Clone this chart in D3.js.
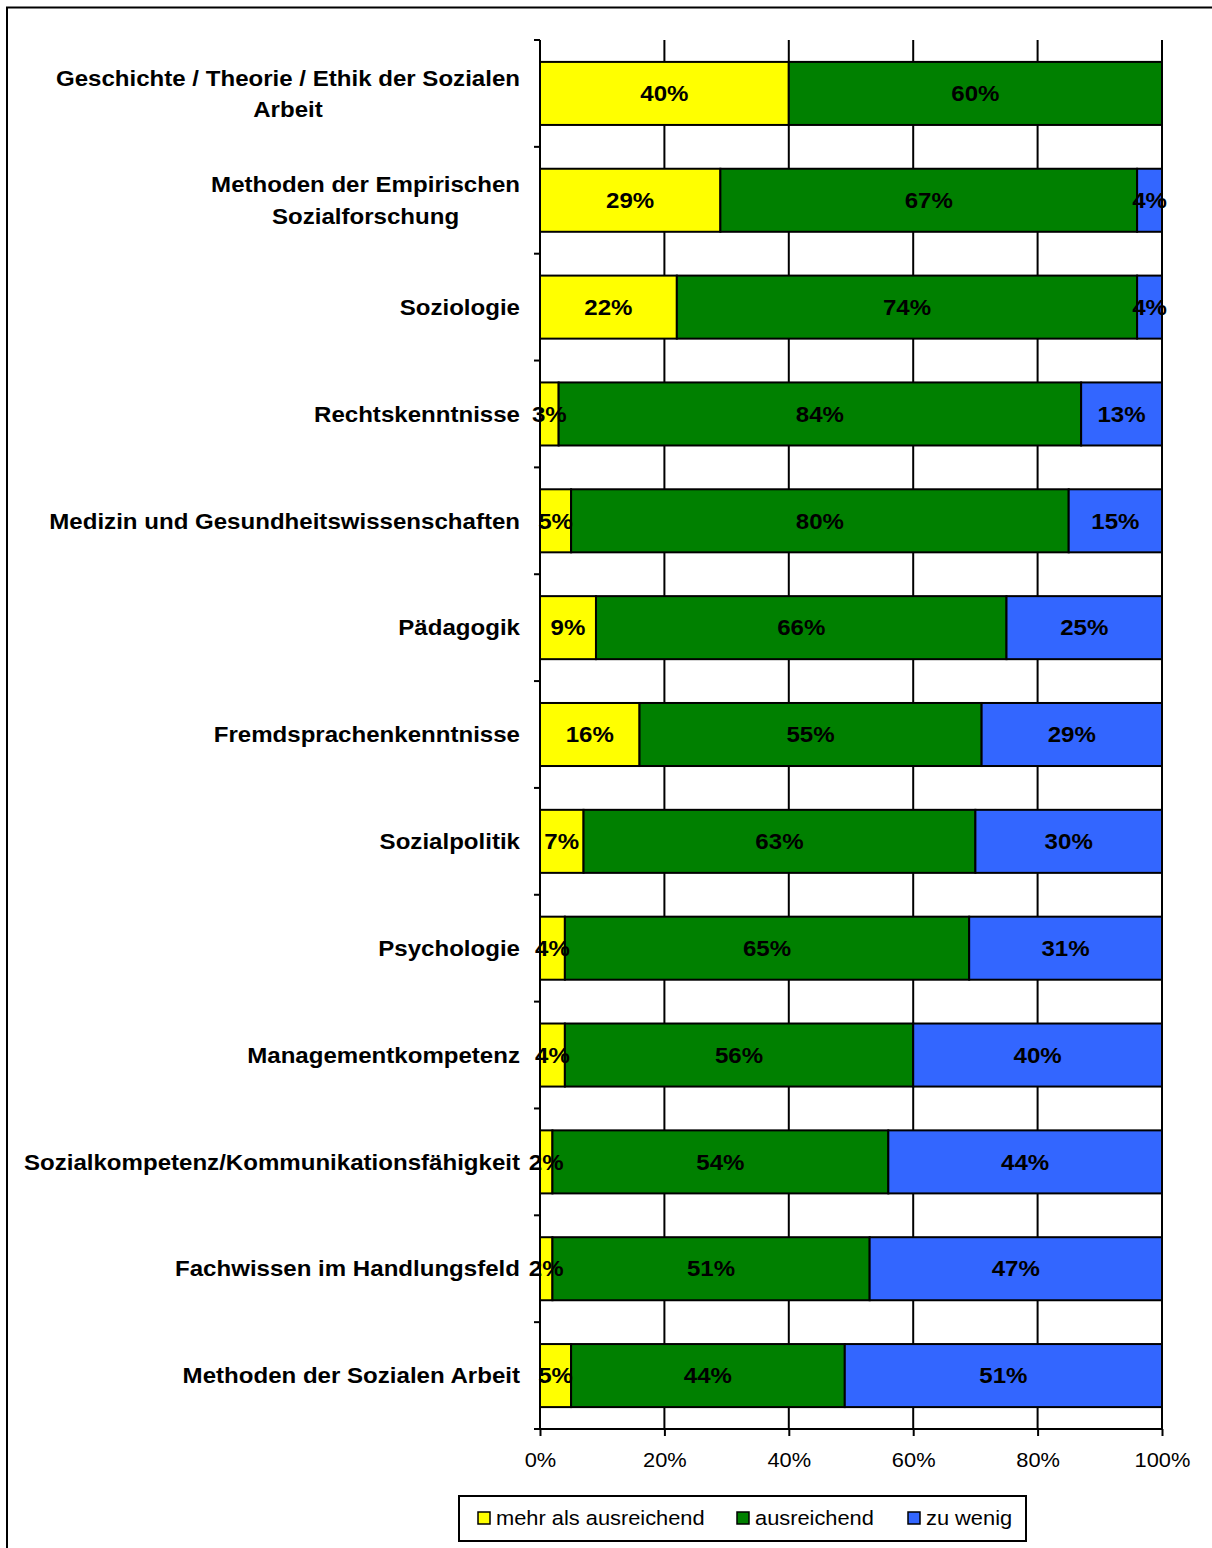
<!DOCTYPE html>
<html>
<head>
<meta charset="utf-8">
<script src="https://cdn.jsdelivr.net/npm/d3@7"></script>
<style>
  html, body { margin: 0; padding: 0; background: #fff; }
  svg { display: block; font-family: Arial, "Liberation Sans", sans-serif; }
</style>
</head>
<body>
<svg id="chart" width="1212" height="1548"></svg>
<script>
// Categories (top to bottom); "|" marks a manual line break
const categories = [
  "Geschichte / Theorie / Ethik der Sozialen|Arbeit",
  "Methoden der Empirischen|Sozialforschung",
  "Soziologie",
  "Rechtskenntnisse",
  "Medizin und Gesundheitswissenschaften",
  "Pädagogik",
  "Fremdsprachenkenntnisse",
  "Sozialpolitik",
  "Psychologie",
  "Managementkompetenz",
  "Sozialkompetenz/Kommunikationsfähigkeit",
  "Fachwissen im Handlungsfeld",
  "Methoden der Sozialen Arbeit"
];

// Shares in percent per series
const mehrAlsAusreichend = [40, 29, 22, 3, 5, 9, 16, 7, 4, 4, 2, 2, 5];
const ausreichend        = [60, 67, 74, 84, 80, 66, 55, 63, 65, 56, 54, 51, 44];
const zuWenig            = [0, 4, 4, 13, 15, 25, 29, 30, 31, 40, 44, 47, 51];

const seriesNames = ["mehr als ausreichend", "ausreichend", "zu wenig"];
const seriesColors = ["#FFFF00", "#008000", "#3366FF"];
const tickValues = [0, 20, 40, 60, 80, 100];

(function draw() {
  const svg = d3.select("#chart");
  const boldSize = 21.5, regSize = 19.5, widen = 1.12;
  // horizontal widening of a text around a fixed x
  const stretch = ax => `translate(${ax},0) scale(${widen},1) translate(${-ax},0)`;

  // outer frame (top and left edges visible)
  svg.append("path")
    .attr("d", "M7,1548 V7.5 H1212")
    .attr("fill", "none").attr("stroke", "#000").attr("stroke-width", 2);

  const plotLeft = 540, plotRight = 1162, plotTop = 40, plotBottom = 1429;

  const x = d3.scaleLinear().domain([0, 100]).range([plotLeft, plotRight]);
  const y = d3.scaleBand().domain(categories).range([plotTop, plotBottom])
    .paddingInner(0.41).paddingOuter(0.205);

  // vertical gridlines
  svg.append("g").selectAll("line")
    .data(tickValues.slice(1))
    .join("line")
    .attr("x1", d => x(d)).attr("x2", d => x(d))
    .attr("y1", plotTop).attr("y2", plotBottom)
    .attr("stroke", "#000").attr("stroke-width", 2);

  // stacked bars
  const rows = categories.map((c, i) => {
    const vals = [mehrAlsAusreichend[i], ausreichend[i], zuWenig[i]];
    let acc = 0;
    return vals.map((v, k) => {
      const seg = { cat: c, k, v, x0: acc, x1: acc + v };
      acc += v;
      return seg;
    });
  });
  const segs = rows.flat().filter(s => s.v > 0);

  svg.append("g").selectAll("rect")
    .data(segs)
    .join("rect")
    .attr("x", d => x(d.x0))
    .attr("y", d => y(d.cat))
    .attr("width", d => x(d.x1) - x(d.x0))
    .attr("height", y.bandwidth())
    .attr("fill", d => seriesColors[d.k])
    .attr("stroke", "#000").attr("stroke-width", 2);

  // value labels
  svg.append("g").selectAll("text")
    .data(segs)
    .join("text")
    .attr("x", d => x((d.x0 + d.x1) / 2))
    .attr("y", d => y(d.cat) + y.bandwidth() / 2)
    .attr("transform", d => stretch(x((d.x0 + d.x1) / 2)))
    .attr("dy", "0.36em")
    .attr("text-anchor", "middle")
    .attr("font-size", boldSize).attr("font-weight", "bold")
    .attr("fill", "#000")
    .text(d => d.v + "%");

  // y axis (category axis)
  const yAxis = svg.append("g");
  yAxis.append("line")
    .attr("x1", plotLeft).attr("x2", plotLeft).attr("y1", plotTop).attr("y2", plotBottom)
    .attr("stroke", "#000").attr("stroke-width", 2);
  const step = y.step();
  const boundaries = d3.range(categories.length + 1).map(i => plotTop + i * step);
  yAxis.selectAll("line.tick")
    .data(boundaries)
    .join("line").attr("class", "tick")
    .attr("x1", plotLeft - 6).attr("x2", plotLeft)
    .attr("y1", d => d).attr("y2", d => d)
    .attr("stroke", "#000").attr("stroke-width", 2);

  // category labels, right-aligned at x=520 with lines centred within each block
  const labelRight = 520;
  const labels = yAxis.selectAll("text.cat")
    .data(categories)
    .join("text").attr("class", "cat")
    .attr("font-size", boldSize).attr("font-weight", "bold")
    .attr("fill", "#000")
    .attr("transform", stretch(labelRight));
  labels.each(function(d) {
    const lines = d.split("|");
    const t = d3.select(this);
    const cy = y(d) + y.bandwidth() / 2;
    const lh = 31;
    lines.forEach((ln, j) => {
      t.append("tspan")
        .attr("y", cy + (j - (lines.length - 1) / 2) * lh)
        .attr("dy", "0.36em")
        .text(ln);
    });
  });
  labels.each(function() {
    const spans = d3.select(this).selectAll("tspan").nodes();
    const maxW = d3.max(spans, s => s.getComputedTextLength());
    const cx = labelRight - maxW / 2;
    spans.forEach(s => d3.select(s).attr("x", cx).attr("text-anchor", "middle"));
  });

  // x axis
  const xAxis = d3.axisBottom(x)
    .tickValues(tickValues)
    .tickFormat(d => d + "%")
    .tickSize(7)
    .tickSizeOuter(0);
  const gx = svg.append("g").attr("transform", `translate(0,${plotBottom})`).call(xAxis);
  gx.select(".domain").remove();
  gx.append("line").attr("x1", plotLeft - 6).attr("x2", plotRight).attr("y1", 0).attr("y2", 0)
    .attr("stroke", "#000").attr("stroke-width", 2);
  gx.selectAll(".tick line").attr("stroke", "#000").attr("stroke-width", 2);
  gx.selectAll(".tick text")
    .attr("font-size", regSize).attr("fill", "#000")
    .attr("font-family", "Arial, 'Liberation Sans', sans-serif")
    .attr("transform", stretch(0))
    .attr("y", 24).attr("dy", "0.71em");

  // legend
  const lg = svg.append("g");
  lg.append("rect")
    .attr("x", 459).attr("y", 1496).attr("width", 567).attr("height", 45)
    .attr("fill", "#fff").attr("stroke", "#000").attr("stroke-width", 2);
  const legendX = [478, 737, 908];
  const items = lg.selectAll("g.item")
    .data(seriesNames)
    .join("g").attr("class", "item")
    .attr("transform", (d, i) => `translate(${legendX[i]},1518)`);
  items.append("rect")
    .attr("x", 0).attr("y", -6).attr("width", 12).attr("height", 12)
    .attr("fill", (d, i) => seriesColors[i])
    .attr("stroke", "#000").attr("stroke-width", 1.5);
  items.append("text")
    .attr("x", 18).attr("y", 0).attr("dy", "0.36em")
    .attr("transform", stretch(18))
    .attr("font-size", regSize).attr("fill", "#000")
    .text(d => d);
})();
</script>
</body>
</html>
